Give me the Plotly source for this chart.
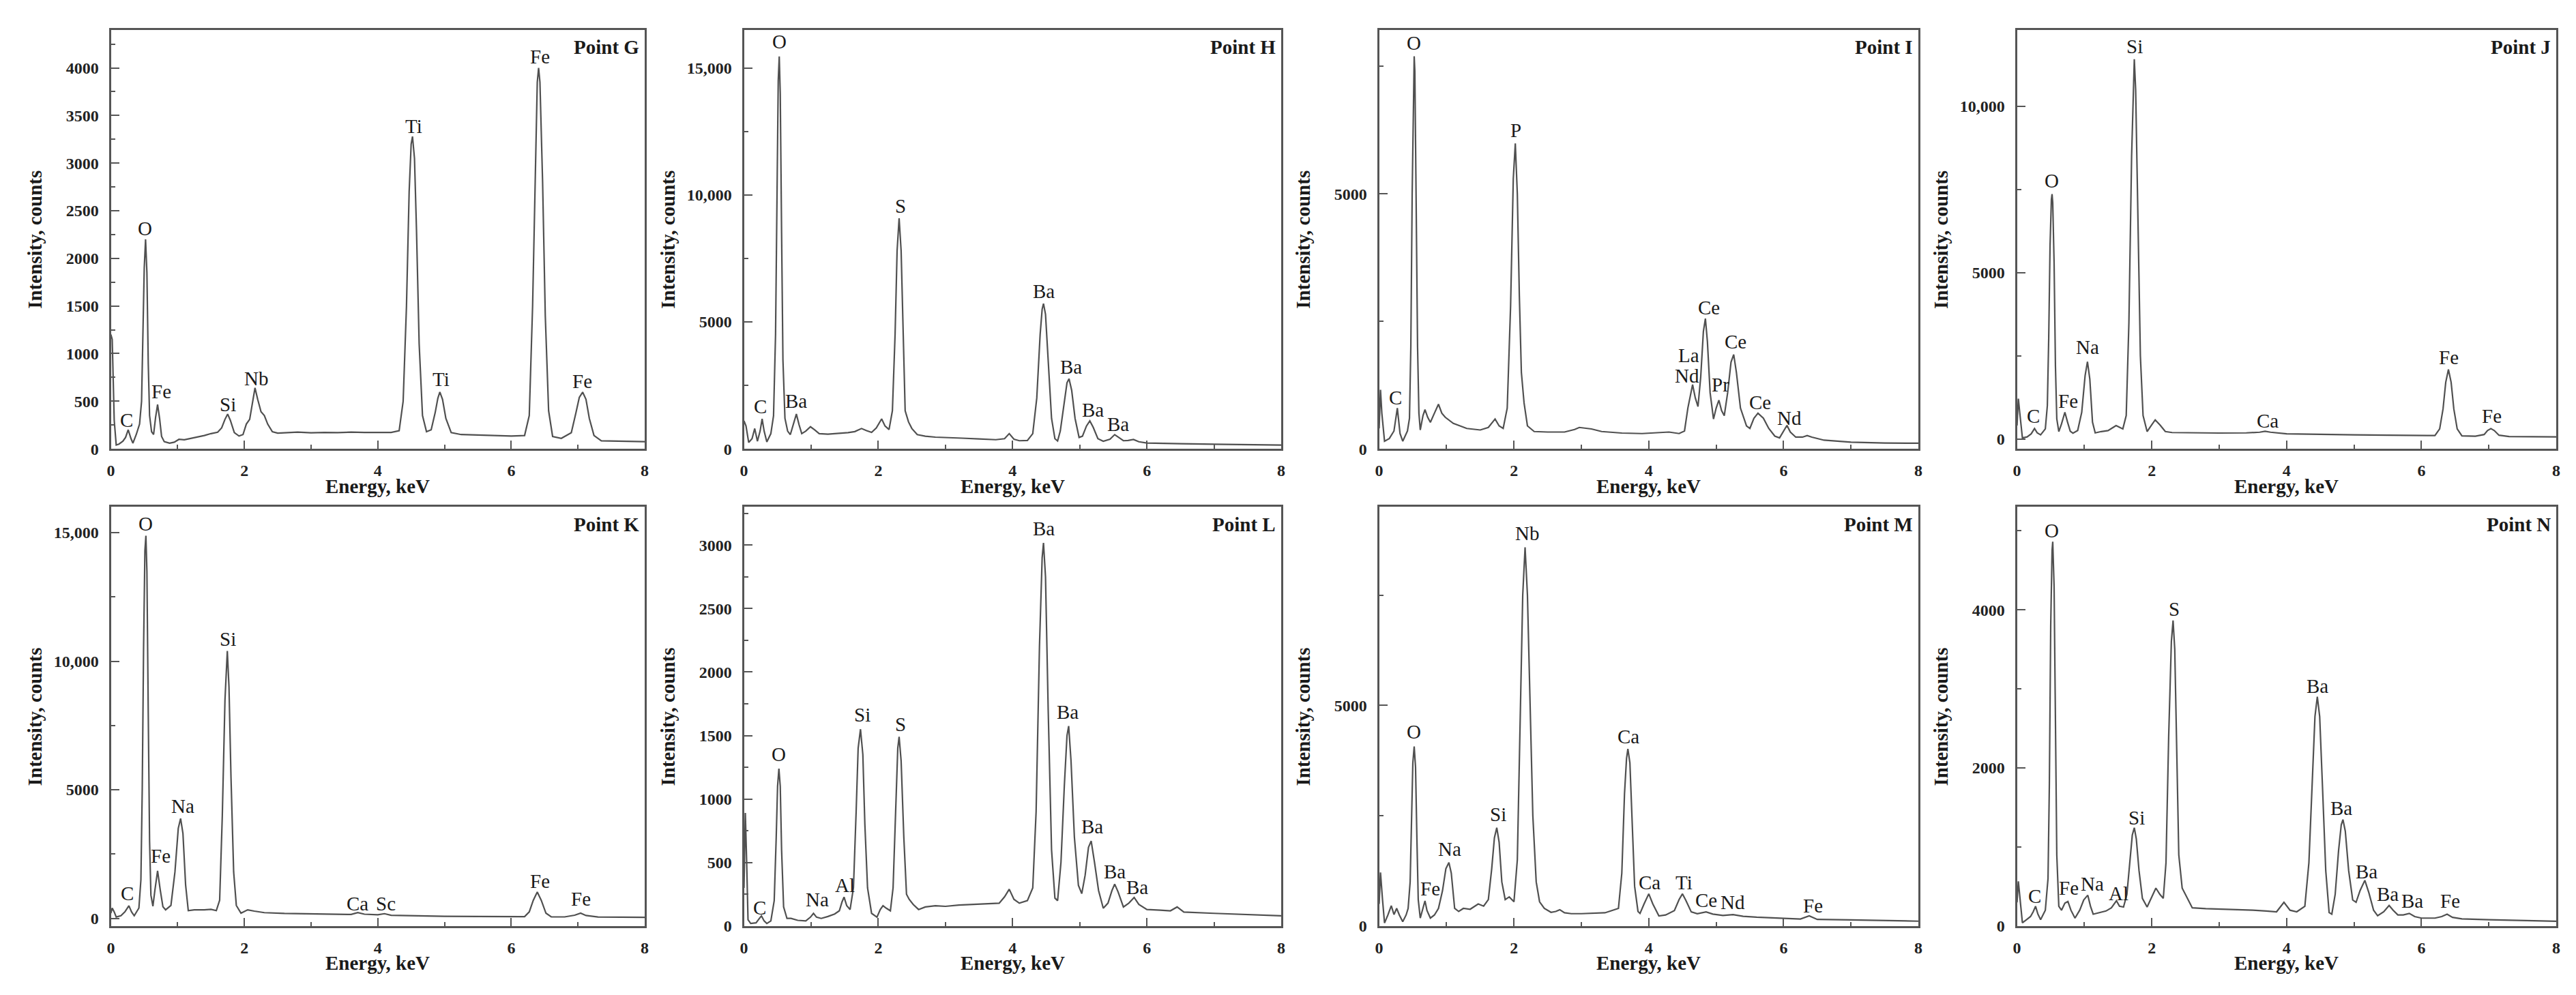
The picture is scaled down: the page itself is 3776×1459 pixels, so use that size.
import plotly.graph_objects as go

# ---------------- data ----------------
panel_names = ["Point G", "Point H", "Point I", "Point J", "Point K", "Point L", "Point M", "Point N"]

energy_G = [0.00, 0.02, 0.05, 0.08, 0.12, 0.18, 0.22, 0.26, 0.30, 0.33, 0.38, 0.43, 0.46, 0.48, 0.50, 0.52, 0.54, 0.56, 0.58, 0.61,
            0.64, 0.67, 0.70, 0.73, 0.76, 0.80, 0.88, 0.95, 1.02, 1.10, 1.20, 1.30, 1.40, 1.50, 1.60, 1.66, 1.71, 1.75, 1.79, 1.85,
            1.92, 1.98, 2.03, 2.08, 2.12, 2.16, 2.20, 2.25, 2.30, 2.35, 2.42, 2.50, 2.65, 2.80, 3.00, 3.20, 3.40, 3.60, 3.80, 4.00,
            4.20, 4.32, 4.38, 4.43, 4.47, 4.50, 4.52, 4.55, 4.58, 4.62, 4.67, 4.73, 4.80, 4.86, 4.90, 4.93, 4.97, 5.02, 5.10, 5.25,
            5.50, 5.75, 6.00, 6.20, 6.27, 6.32, 6.36, 6.39, 6.41, 6.43, 6.47, 6.51, 6.56, 6.62, 6.75, 6.90, 6.97, 7.02, 7.07, 7.12,
            7.17, 7.24, 7.35, 7.60, 7.80, 8.00]
counts_G = [1200, 1150, 300, 40, 50, 80, 120, 200, 110, 60, 150, 260, 500, 1100, 1900, 2200, 1850, 900, 350, 180,
            150, 330, 465, 320, 130, 75, 60, 70, 100, 95, 110, 120, 140, 160, 175, 220, 310, 365, 300, 170,
            135, 150, 260, 310, 480, 640, 520, 390, 350, 260, 180, 165, 170, 175, 168, 172, 170, 175, 172, 170,
            172, 190, 500, 1500, 2700, 3200, 3280, 3050, 2300, 1100, 350, 180, 200, 380, 530, 597, 520, 320, 170, 150,
            145, 140, 135, 140, 350, 1500, 3000, 3850, 4000, 3850, 2800, 1400, 400, 130, 110, 170, 380, 540, 595, 520,
            320, 140, 85, 80, 78, 75]

energy_H = [0.00, 0.03, 0.07, 0.12, 0.16, 0.20, 0.24, 0.27, 0.30, 0.34, 0.40, 0.44, 0.47, 0.49, 0.51, 0.525, 0.54, 0.56, 0.58, 0.61,
            0.65, 0.69, 0.73, 0.78, 0.82, 0.86, 0.92, 0.99, 1.05, 1.12, 1.25, 1.40, 1.55, 1.65, 1.75, 1.82, 1.90, 1.97, 2.05, 2.10,
            2.16, 2.21, 2.25, 2.28, 2.31, 2.34, 2.37, 2.40, 2.45, 2.50, 2.58, 2.70, 2.85, 3.00, 3.25, 3.50, 3.75, 3.88, 3.95, 4.02,
            4.10, 4.22, 4.30, 4.36, 4.41, 4.44, 4.46, 4.49, 4.53, 4.58, 4.63, 4.67, 4.71, 4.76, 4.81, 4.84, 4.88, 4.93, 4.99, 5.04,
            5.10, 5.15, 5.20, 5.27, 5.35, 5.45, 5.52, 5.58, 5.65, 5.72, 5.80, 5.88, 6.00, 6.50, 7.00, 7.50, 8.00]
counts_H = [1100, 900, 250, 400, 800, 300, 700, 1180, 700, 270, 600, 1300, 4500, 10000, 14500, 15450, 14000, 8500, 3500, 1200,
            700, 560, 950, 1370, 950, 600, 700, 870, 750, 600, 580, 600, 640, 680, 800, 720, 650, 820, 1180, 900,
            760, 1500, 4500, 7800, 9080, 7800, 4200, 1500, 1060, 800, 560, 500, 460, 450, 420, 390, 360, 400, 600, 380,
            320, 330, 600, 2000, 4500, 5500, 5720, 5300, 3500, 1200, 400, 310, 700, 1700, 2600, 2760, 2300, 1200, 450, 500,
            900, 1100, 850, 400, 300, 380, 560, 450, 320, 330, 370, 280, 230, 200, 180, 165, 150]

energy_I = [0.00, 0.02, 0.04, 0.08, 0.15, 0.22, 0.27, 0.31, 0.35, 0.42, 0.45, 0.47, 0.49, 0.51, 0.52, 0.53, 0.55, 0.57, 0.59, 0.61,
            0.65, 0.68, 0.72, 0.76, 0.82, 0.88, 0.93, 0.98, 1.10, 1.30, 1.50, 1.62, 1.72, 1.78, 1.84, 1.90, 1.95, 1.99, 2.02, 2.05,
            2.08, 2.11, 2.15, 2.20, 2.30, 2.50, 2.75, 2.90, 2.97, 3.05, 3.15, 3.30, 3.60, 3.90, 4.10, 4.30, 4.45, 4.53, 4.58, 4.65,
            4.69, 4.73, 4.77, 4.81, 4.84, 4.87, 4.91, 4.96, 5.00, 5.04, 5.08, 5.12, 5.17, 5.22, 5.26, 5.30, 5.36, 5.45, 5.50, 5.56,
            5.62, 5.70, 5.78, 5.87, 5.94, 6.00, 6.05, 6.10, 6.18, 6.28, 6.35, 6.42, 6.60, 7.00, 7.50, 8.00]
counts_I = [400, 1160, 700, 150, 200, 350, 800, 300, 150, 350, 600, 2000, 5000, 7400, 7700, 7400, 5000, 2000, 700, 370,
            650, 770, 620, 520, 700, 875, 700, 620, 500, 400, 370, 420, 585, 450, 400, 800, 2800, 5300, 5990, 5000,
            3000, 1500, 900, 450, 340, 330, 330, 380, 420, 410, 390, 340, 310, 300, 310, 330, 300, 350, 800, 1260,
            1000, 830, 1400, 2300, 2555, 2100, 1100, 585, 800, 955, 750, 650, 1100, 1700, 1850, 1500, 800, 450, 400, 600,
            700, 600, 400, 250, 215, 350, 460, 330, 230, 230, 260, 230, 170, 130, 115, 110]

energy_J = [0.00, 0.02, 0.04, 0.08, 0.15, 0.21, 0.26, 0.30, 0.35, 0.42, 0.45, 0.47, 0.49, 0.51, 0.52, 0.53, 0.55, 0.57, 0.59, 0.62,
            0.66, 0.71, 0.75, 0.79, 0.83, 0.90, 0.96, 1.01, 1.045, 1.08, 1.12, 1.16, 1.25, 1.35, 1.43, 1.47, 1.52, 1.57, 1.62, 1.66,
            1.70, 1.73, 1.74, 1.76, 1.79, 1.83, 1.87, 1.93, 1.99, 2.05, 2.12, 2.20, 2.30, 2.60, 3.00, 3.40, 3.60, 3.68, 3.76, 4.00,
            4.50, 5.00, 5.50, 6.00, 6.20, 6.27, 6.32, 6.36, 6.40, 6.44, 6.48, 6.53, 6.60, 6.80, 6.93, 6.98, 7.03, 7.08, 7.15, 7.30,
            7.60, 8.00]
counts_J = [400, 1210, 800, 30, 60, 150, 310, 180, 120, 300, 1000, 3000, 5800, 7200, 7360, 7100, 5300, 2200, 600, 220,
            450, 800, 500, 230, 170, 250, 800, 1900, 2320, 1800, 500, 180, 220, 250, 350, 400, 350, 300, 700, 3500,
            8500, 11000, 11415, 10500, 7000, 2500, 700, 220, 400, 570, 420, 220, 190, 180, 175, 180, 200, 230, 200, 150,
            130, 120, 110, 100, 100, 300, 900, 1700, 2085, 1700, 900, 300, 90, 80, 130, 250, 310, 250, 110, 70,
            65, 60]

energy_K = [0.00, 0.02, 0.05, 0.08, 0.15, 0.21, 0.27, 0.31, 0.35, 0.42, 0.45, 0.47, 0.49, 0.51, 0.525, 0.54, 0.56, 0.58, 0.60, 0.63,
            0.66, 0.70, 0.74, 0.78, 0.82, 0.90, 0.96, 1.01, 1.045, 1.08, 1.12, 1.16, 1.25, 1.40, 1.50, 1.58, 1.63, 1.67, 1.71, 1.745,
            1.77, 1.80, 1.84, 1.88, 1.95, 2.05, 2.15, 2.30, 2.60, 3.00, 3.40, 3.60, 3.70, 3.80, 4.00, 4.10, 4.20, 4.50, 5.00, 5.50,
            6.00, 6.20, 6.27, 6.33, 6.39, 6.45, 6.52, 6.60, 6.80, 6.95, 7.04, 7.12, 7.30, 7.60, 8.00]
counts_K = [200, 400, 250, 50, 100, 250, 490, 250, 100, 400, 1500, 5000, 10500, 14300, 14880, 13500, 8000, 3000, 900, 470,
            1100, 1850, 1100, 450, 330, 500, 1800, 3500, 3880, 3300, 1300, 300, 330, 330, 350, 300, 700, 4000, 8500, 10400,
            9000, 5500, 1800, 500, 200, 330, 280, 220, 190, 170, 150, 150, 220, 160, 140, 180, 120, 100, 80, 70,
            60, 65, 250, 700, 1020, 700, 200, 60, 55, 120, 200, 110, 50, 45, 40]

energy_L = [0.00, 0.02, 0.04, 0.06, 0.10, 0.18, 0.23, 0.26, 0.30, 0.34, 0.40, 0.45, 0.48, 0.50, 0.52, 0.54, 0.56, 0.59, 0.64, 0.70,
            0.80, 0.92, 0.99, 1.035, 1.08, 1.15, 1.25, 1.35, 1.42, 1.46, 1.49, 1.53, 1.58, 1.63, 1.67, 1.70, 1.735, 1.77, 1.80, 1.84,
            1.90, 1.98, 2.03, 2.07, 2.12, 2.18, 2.22, 2.26, 2.29, 2.31, 2.34, 2.38, 2.42, 2.46, 2.52, 2.60, 2.70, 2.85, 3.00, 3.20,
            3.40, 3.60, 3.80, 3.88, 3.95, 4.02, 4.10, 4.22, 4.30, 4.35, 4.40, 4.44, 4.46, 4.49, 4.53, 4.58, 4.63, 4.67, 4.72, 4.77,
            4.81, 4.835, 4.87, 4.92, 4.98, 5.03, 5.08, 5.13, 5.17, 5.22, 5.28, 5.35, 5.42, 5.48, 5.52, 5.57, 5.65, 5.73, 5.81, 5.88,
            6.00, 6.20, 6.35, 6.45, 6.55, 7.00, 7.50, 8.00]
counts_L = [300, 890, 500, 50, 20, 25, 60, 80, 40, 20, 40, 200, 700, 1100, 1240, 1100, 600, 150, 60, 60,
            45, 40, 70, 100, 70, 60, 75, 95, 120, 190, 228, 160, 130, 300, 900, 1400, 1550, 1350, 800, 300,
            100, 70, 130, 160, 140, 120, 300, 1000, 1400, 1490, 1300, 700, 250, 210, 170, 130, 150, 160, 155, 165,
            170, 175, 180, 230, 290, 210, 180, 200, 300, 900, 2200, 2900, 3017, 2750, 1700, 600, 220, 200, 500, 1100,
            1500, 1575, 1300, 700, 320, 255, 400, 620, 670, 500, 280, 140, 180, 280, 330, 270, 150, 180, 225, 170,
            130, 125, 120, 150, 110, 100, 90, 80]

energy_M = [0.00, 0.02, 0.05, 0.08, 0.13, 0.18, 0.22, 0.26, 0.30, 0.35, 0.40, 0.43, 0.46, 0.48, 0.50, 0.52, 0.54, 0.56, 0.58, 0.61,
            0.65, 0.68, 0.71, 0.76, 0.82, 0.88, 0.94, 0.99, 1.035, 1.07, 1.12, 1.18, 1.25, 1.35, 1.42, 1.47, 1.55, 1.62, 1.67, 1.71,
            1.745, 1.78, 1.82, 1.87, 1.93, 2.00, 2.05, 2.09, 2.13, 2.165, 2.20, 2.24, 2.28, 2.33, 2.38, 2.45, 2.55, 2.62, 2.68, 2.75,
            2.85, 3.00, 3.20, 3.35, 3.45, 3.55, 3.60, 3.64, 3.67, 3.69, 3.72, 3.75, 3.79, 3.84, 3.87, 3.93, 4.00, 4.06, 4.15, 4.25,
            4.38, 4.45, 4.50, 4.55, 4.63, 4.72, 4.85, 4.95, 5.10, 5.25, 5.40, 5.60, 5.80, 6.00, 6.25, 6.38, 6.50, 7.00, 7.50, 8.00]
counts_M = [500, 1215, 600, 70, 250, 460, 260, 400, 250, 100, 250, 400, 1000, 2500, 3700, 4070, 3600, 2000, 600, 180,
            400, 570, 350, 180, 250, 400, 800, 1300, 1440, 1200, 400, 330, 400, 380, 450, 500, 450, 600, 1300, 2000,
            2230, 1900, 1000, 600, 660, 550, 1500, 4500, 7500, 8585, 7500, 5000, 2500, 1000, 550, 400, 310, 330, 370, 300,
            280, 280, 290, 300, 350, 400, 1200, 3000, 3800, 4015, 3700, 2500, 900, 330, 285, 500, 730, 500, 230, 250,
            350, 600, 730, 580, 320, 280, 320, 270, 240, 260, 220, 200, 190, 170, 160, 230, 150, 140, 120, 110]

energy_N = [0.00, 0.02, 0.05, 0.08, 0.14, 0.20, 0.24, 0.275, 0.31, 0.35, 0.42, 0.46, 0.48, 0.50, 0.52, 0.53, 0.55, 0.57, 0.59, 0.62,
            0.66, 0.71, 0.755, 0.80, 0.86, 0.93, 0.99, 1.05, 1.09, 1.13, 1.22, 1.32, 1.40, 1.445, 1.475, 1.52, 1.58, 1.63, 1.67, 1.71,
            1.74, 1.77, 1.81, 1.86, 1.93, 1.99, 2.06, 2.12, 2.17, 2.21, 2.25, 2.29, 2.315, 2.34, 2.37, 2.40, 2.45, 2.50, 2.60, 2.80,
            3.00, 3.20, 3.50, 3.70, 3.85, 3.96, 4.05, 4.15, 4.27, 4.33, 4.38, 4.42, 4.455, 4.49, 4.53, 4.58, 4.63, 4.67, 4.72, 4.77,
            4.81, 4.835, 4.87, 4.92, 4.98, 5.03, 5.09, 5.16, 5.22, 5.29, 5.35, 5.44, 5.52, 5.58, 5.65, 5.73, 5.82, 5.90, 6.00, 6.20,
            6.30, 6.38, 6.46, 6.60, 7.00, 7.50, 8.00]
counts_N = [300, 565, 300, 40, 80, 120, 180, 250, 150, 80, 200, 600, 1800, 3800, 4750, 4860, 4300, 2500, 900, 250,
            200, 290, 310, 200, 100, 200, 330, 390, 250, 150, 170, 190, 230, 290, 320, 250, 240, 400, 800, 1150,
            1243, 1100, 700, 350, 240, 350, 480, 400, 350, 800, 2400, 3600, 3865, 3500, 2200, 900, 480, 400, 230, 220,
            215, 210, 200, 190, 180, 300, 200, 180, 250, 800, 1900, 2650, 2900, 2650, 1800, 700, 170, 150, 400, 950,
            1280, 1346, 1200, 700, 330, 300, 450, 578, 420, 200, 130, 180, 260, 200, 140, 140, 160, 120, 100, 100,
            120, 150, 110, 90, 80, 70, 60]

# element labels: text, energy (keV) and intensity at the label baseline
labels_G = ["C", "O", "Fe", "Si", "Nb", "Ti", "Ti", "Fe", "Fe"]
label_E_G = [0.23, 0.515, 0.755, 1.75, 2.18, 4.54, 4.95, 6.43, 7.06]
label_I_G = [225, 2232, 524, 391, 663, 3310, 650, 4040, 630]

labels_H = ["O", "C", "Ba", "S", "Ba", "Ba", "Ba", "Ba"]
label_E_H = [0.525, 0.245, 0.78, 2.33, 4.46, 4.87, 5.20, 5.57]
label_I_H = [15740, 1370, 1580, 9270, 5910, 2920, 1245, 685]

labels_I = ["O", "C", "P", "La", "Nd", "Ce", "Pr", "Ce", "Ce", "Nd"]
label_E_I = [0.52, 0.24, 2.03, 4.59, 4.57, 4.89, 5.06, 5.29, 5.65, 6.09]
label_I_I = [7820, 860, 6100, 1690, 1290, 2620, 1110, 1960, 770, 460]

labels_J = ["Si", "O", "Na", "C", "Fe", "Ca", "Fe", "Fe"]
label_E_J = [1.74, 0.52, 1.045, 0.245, 0.76, 3.72, 6.41, 7.04]
label_I_J = [11570, 7530, 2530, 470, 905, 310, 2225, 470]

labels_K = ["O", "Si", "Na", "Fe", "C", "Ca", "Sc", "Fe", "Fe"]
label_E_K = [0.525, 1.75, 1.08, 0.75, 0.245, 3.70, 4.12, 6.43, 7.04]
label_I_K = [15060, 10570, 4060, 2130, 680, 280, 280, 1145, 470]

labels_L = ["Ba", "Ba", "Si", "S", "O", "Ba", "Ba", "Ba", "Al", "Na", "C"]
label_E_L = [4.46, 4.82, 1.76, 2.33, 0.52, 5.19, 5.52, 5.86, 1.50, 1.095, 0.23]
label_I_L = [3070, 1624, 1604, 1530, 1294, 724, 372, 248, 260, 149, 87]

labels_M = ["Nb", "O", "Ca", "Si", "Na", "Fe", "Ca", "Ti", "Ce", "Nd", "Fe"]
label_E_M = [2.20, 0.517, 3.70, 1.76, 1.046, 0.76, 4.01, 4.52, 4.85, 5.25, 6.44]
label_I_M = [8730, 4230, 4120, 2370, 1570, 680, 820, 810, 415, 370, 285]

labels_N = ["O", "S", "Ba", "Si", "Ba", "Ba", "Ba", "Ba", "Fe", "C", "Fe", "Na", "Al"]
label_E_N = [0.52, 2.33, 4.455, 1.77, 4.81, 5.19, 5.50, 5.86, 6.43, 0.265, 0.77, 1.12, 1.505]
label_I_N = [4910, 3915, 2940, 1275, 1395, 598, 310, 220, 220, 280, 390, 440, 320]

# y-axis ticks per panel
ytick_vals = [
    [0, 500, 1000, 1500, 2000, 2500, 3000, 3500, 4000],
    [0, 5000, 10000, 15000],
    [0, 5000],
    [0, 5000, 10000],
    [0, 5000, 10000, 15000],
    [0, 500, 1000, 1500, 2000, 2500, 3000],
    [0, 5000],
    [0, 2000, 4000],
]
ytick_text = [
    ["0", "500", "1000", "1500", "2000", "2500", "3000", "3500", "4000"],
    ["0", "5000", "10,000", "15,000"],
    ["0", "5000"],
    ["0", "5000", "10,000"],
    ["0", "5000", "10,000", "15,000"],
    ["0", "500", "1000", "1500", "2000", "2500", "3000"],
    ["0", "5000"],
    ["0", "2000", "4000"],
]
yminor_vals = [
    [250, 750, 1250, 1750, 2250, 2750, 3250, 3750, 4250],
    [2500, 7500, 12500],
    [2500, 7500],
    [2500, 7500],
    [2500, 7500, 12500],
    [250, 750, 1250, 1750, 2250, 2750, 3250],
    [2500, 7500],
    [1000, 3000, 5000],
]
y_ranges = [[0, 4400], [0, 16500], [0, 8220], [-300, 12300],
            [-300, 16000], [0, 3300], [0, 9500], [0, 5300]]
xtick_vals = [0, 2, 4, 6, 8]
xminor_vals = [1, 3, 5, 7]

spectra = [(energy_G, counts_G), (energy_H, counts_H), (energy_I, counts_I), (energy_J, counts_J),
           (energy_K, counts_K), (energy_L, counts_L), (energy_M, counts_M), (energy_N, counts_N)]
peak_labels = [(labels_G, label_E_G, label_I_G), (labels_H, label_E_H, label_I_H),
               (labels_I, label_E_I, label_I_I), (labels_J, label_E_J, label_I_J),
               (labels_K, label_E_K, label_I_K), (labels_L, label_E_L, label_I_L),
               (labels_M, label_E_M, label_I_M), (labels_N, label_E_N, label_I_N)]

for e, c in spectra:
    assert len(e) == len(c), (len(e), len(c))
for t, e, c in peak_labels:
    assert len(t) == len(e) == len(c)

# ---------------- layout geometry (pixels) ----------------
W, H = 3776, 1459
cols = [(149, 934), (1080, 1870), (2014, 2807), (2952, 3745)]
rows = [(36, 656), (742, 1362)]

FONT = "Liberation Serif"
AXC = "#555555"
LINEC = "#505050"

fig = go.Figure()
annotations = []
layout = dict(width=W, height=H, margin=dict(l=0, r=0, t=0, b=0),
              paper_bgcolor="white", plot_bgcolor="white", showlegend=False)

for i in range(8):
    r, c = divmod(i, 4)
    x0, x1 = cols[c]
    y0, y1 = rows[r]
    sfx = "" if i == 0 else str(i + 1)
    xa, ya = "x" + sfx, "y" + sfx
    e, cnt = spectra[i]
    fig.add_trace(go.Scatter(x=e, y=cnt, mode="lines", xaxis=xa, yaxis=ya,
                             line=dict(color=LINEC, width=2.2), hoverinfo="skip"))
    common = dict(showline=True, linecolor=AXC, linewidth=3, mirror=True,
                  ticks="inside", ticklen=12, tickwidth=2, tickcolor=AXC,
                  showgrid=False, zeroline=False,
                  tickfont=dict(family=FONT, size=24, color="#222222", weight="bold"))
    layout["xaxis" + sfx] = dict(
        domain=[x0 / W, x1 / W], anchor=ya, range=[0, 8],
        tickmode="array", tickvals=xtick_vals, ticktext=[str(v) for v in xtick_vals],
        minor=dict(tickmode="array", tickvals=xminor_vals, ticks="inside", ticklen=6,
                   tickwidth=2, tickcolor=AXC),
        ticklabelstandoff=8, **common)
    layout["yaxis" + sfx] = dict(
        domain=[1 - y1 / H, 1 - y0 / H], anchor=xa, range=y_ranges[i],
        tickmode="array", tickvals=ytick_vals[i], ticktext=ytick_text[i],
        minor=dict(tickmode="array", tickvals=yminor_vals[i], ticks="inside", ticklen=6,
                   tickwidth=2, tickcolor=AXC),
        ticklabelstandoff=10, **common)

    # element labels
    texts, le, li = peak_labels[i]
    for t, ex, iy in zip(texts, le, li):
        annotations.append(dict(x=ex, y=iy, xref=xa, yref=ya, text=t, showarrow=False,
                                xanchor="center", yanchor="bottom", yshift=-7,
                                font=dict(family=FONT, size=29, color="#1a1a1a")))
    # panel name
    annotations.append(dict(x=(x1 - 6) / W, y=1 - (y0 + 26) / H, xref="paper", yref="paper",
                            text="<b>" + panel_names[i] + "</b>", showarrow=False,
                            xanchor="right", yanchor="middle",
                            font=dict(family=FONT, size=29, color="#1a1a1a")))
    # axis titles
    annotations.append(dict(x=(x0 + x1) / 2 / W, y=1 - (y1 + 55) / H, xref="paper", yref="paper",
                            text="<b>Energy, keV</b>", showarrow=False,
                            xanchor="center", yanchor="middle",
                            font=dict(family=FONT, size=29, color="#1a1a1a")))
    annotations.append(dict(x=(x0 - 112) / W, y=1 - (y0 + y1) / 2 / H, xref="paper", yref="paper",
                            text="<b>Intensity, counts</b>", showarrow=False, textangle=-90,
                            xanchor="center", yanchor="middle",
                            font=dict(family=FONT, size=29, color="#1a1a1a")))

layout["annotations"] = annotations
fig.update_layout(**layout)
fig.write_html("out.html")
